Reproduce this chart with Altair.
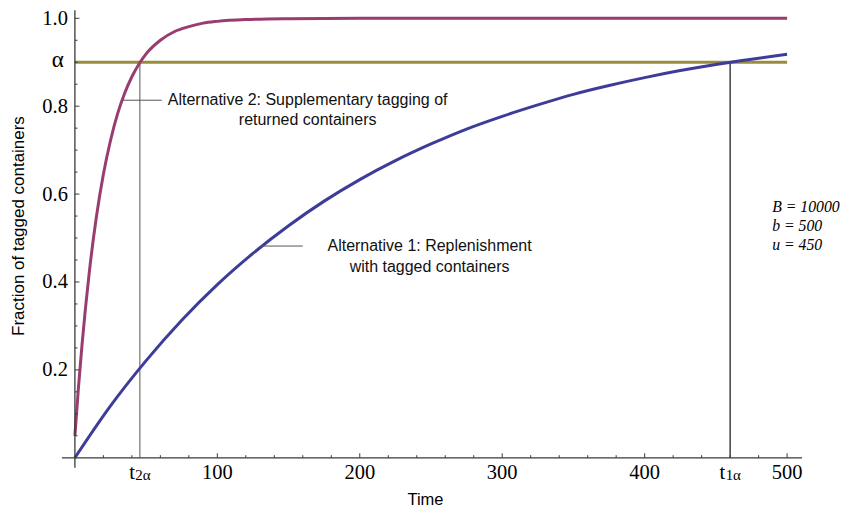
import altair as alt
import pandas as pd

# ---- values ----
time_alt1 = [0, 25, 50, 75, 100, 125, 150, 175, 200, 225, 250, 275, 300,
             325, 350, 375, 400, 425, 450, 475, 500]
frac_alt1 = [0.0, 0.118, 0.221, 0.313, 0.394, 0.465, 0.528, 0.584, 0.633,
             0.676, 0.714, 0.748, 0.777, 0.803, 0.827, 0.847, 0.865, 0.881,
             0.895, 0.907, 0.918]

time_alt2 = [0, 2.5, 5, 10, 15, 20, 25, 30, 35, 40, 45, 50, 60, 70, 80, 90,
             100, 120, 150, 200, 300, 400, 500]
frac_alt2 = [0.05, 0.160, 0.257, 0.419, 0.546, 0.645, 0.722, 0.783, 0.830,
             0.867, 0.896, 0.919, 0.950, 0.970, 0.981, 0.989, 0.993, 0.997,
             0.999, 1.0, 1.0, 1.0, 1.0]

alpha = 0.9
t2_alpha = 45.6
t1_alpha = 460

x_major = [100, 200, 300, 400, 500]
x_major_labels = ["100", "200", "300", "400", "500"]
x_minor = [20, 40, 60, 80, 120, 140, 160, 180, 220, 240, 260, 280, 320, 340,
           360, 380, 420, 440, 460, 480]
y_major = [0.2, 0.4, 0.6, 0.8, 1.0]
y_major_labels = ["0.2", "0.4", "0.6", "0.8", "1.0"]
y_minor = [0.05, 0.1, 0.15, 0.25, 0.3, 0.35, 0.45, 0.5, 0.55, 0.65, 0.7,
           0.75, 0.85, 0.9, 0.95]

params_text = ["B = 10000", "b = 500", "u = 450"]

# ---- layout ----
X_DOMAIN = [-9.1, 510.5]
Y_DOMAIN = [-0.0227, 1.0182]
W, H = 741, 458

BLUE = "#3d3d99"
MAGENTA = "#993d71"
OLIVE = "#998c3d"
AXIS = "#3a3a3a"

xs = alt.Scale(domain=X_DOMAIN, nice=False, zero=False)
ys = alt.Scale(domain=Y_DOMAIN, nice=False, zero=False)


def X(f, **kw):
    return alt.X(f, type="quantitative", scale=xs, axis=None, **kw)


def Y(f, **kw):
    return alt.Y(f, type="quantitative", scale=ys, axis=None, **kw)


one = pd.DataFrame({"d": [0]})

# axes lines
x_axis = alt.Chart(one).mark_rule(color=AXIS, strokeWidth=1.3).encode(
    x=alt.value(0), x2=alt.value(W), y=alt.Y(datum=0, scale=ys, axis=None))
y_axis = alt.Chart(one).mark_rule(color=AXIS, strokeWidth=1.3).encode(
    y=alt.value(0), y2=alt.value(H), x=alt.X(datum=0, scale=xs, axis=None))

# ticks
df_xmaj = pd.DataFrame({"t": x_major, "lab": x_major_labels})
df_xmin = pd.DataFrame({"t": x_minor})
df_ymaj = pd.DataFrame({"v": y_major, "lab": y_major_labels})
df_ymin = pd.DataFrame({"v": y_minor})

xt_major = alt.Chart(df_xmaj).mark_rule(color=AXIS, strokeWidth=1, y2Offset=-4.5).encode(
    x=X("t"), y=alt.Y(datum=0, scale=ys, axis=None), y2=alt.Y2(datum=0))
xt_minor = alt.Chart(df_xmin).mark_rule(color=AXIS, strokeWidth=1, y2Offset=-2.6).encode(
    x=X("t"), y=alt.Y(datum=0, scale=ys, axis=None), y2=alt.Y2(datum=0))
yt_major = alt.Chart(df_ymaj).mark_rule(color=AXIS, strokeWidth=1, x2Offset=4.5).encode(
    y=Y("v"), x=alt.X(datum=0, scale=xs, axis=None), x2=alt.X2(datum=0))
yt_minor = alt.Chart(df_ymin).mark_rule(color=AXIS, strokeWidth=1, x2Offset=2.6).encode(
    y=Y("v"), x=alt.X(datum=0, scale=xs, axis=None), x2=alt.X2(datum=0))

SERIF = "Liberation Serif"
SANS = "Liberation Sans"

xl = alt.Chart(df_xmaj).mark_text(font=SERIF, fontSize=20.5, baseline="alphabetic",
                                   dy=21, color="black").encode(
    x=X("t"), y=alt.Y(datum=0, scale=ys, axis=None), text="lab:N")
yl = alt.Chart(df_ymaj).mark_text(font=SERIF, fontSize=20.5, baseline="alphabetic",
                                   align="right", dx=-7, dy=6.5, color="black").encode(
    y=Y("v"), x=alt.X(datum=0, scale=xs, axis=None), text="lab:N")
df_alpha_lab = pd.DataFrame({"v": [alpha], "lab": ["α"]})
yl_alpha = alt.Chart(df_alpha_lab).mark_text(font=SERIF, fontSize=23, baseline="alphabetic",
                                             align="right", dx=-11, dy=5, color="black").encode(
    y=Y("v"), x=alt.X(datum=0, scale=xs, axis=None), text="lab:N")

df_tsub = pd.DataFrame({"t": [t2_alpha, t1_alpha], "main": ["t", "t"], "sub": ["2α", "1α"]})
xl_t = alt.Chart(df_tsub).mark_text(font=SERIF, fontSize=20.5, baseline="alphabetic",
                                     align="right", dx=-5, dy=21, color="black").encode(
    x=X("t"), y=alt.Y(datum=0, scale=ys, axis=None), text="main:N")
xl_sub = alt.Chart(df_tsub).mark_text(font=SERIF, fontSize=15, baseline="alphabetic",
                                       align="left", dx=-4.5, dy=22, color="black").encode(
    x=X("t"), y=alt.Y(datum=0, scale=ys, axis=None), text="sub:N")

# drop lines
df_drop = pd.DataFrame({"t": [t2_alpha, t1_alpha], "y0": [0, 0], "y1": [alpha, alpha],
                        "c": ["#707070", "#111111"]})
drops = alt.Chart(df_drop).mark_rule(strokeWidth=1.2).encode(
    x=X("t"), y=Y("y0"), y2="y1", color=alt.Color("c:N", scale=None))

# alpha line
df_al = pd.DataFrame({"t0": [0], "t1": [500], "a": [alpha]})
alpha_line = alt.Chart(df_al).mark_rule(color=OLIVE, strokeWidth=3).encode(
    x=X("t0"), x2="t1", y=Y("a"))

df1 = pd.DataFrame({"t": time_alt1, "f": frac_alt1})
df2 = pd.DataFrame({"t": time_alt2, "f": frac_alt2})
curve1 = alt.Chart(df1).mark_line(color=BLUE, strokeWidth=3, interpolate="monotone").encode(
    x=X("t"), y=Y("f"))
curve2 = alt.Chart(df2).mark_line(color=MAGENTA, strokeWidth=3, interpolate="monotone").encode(
    x=X("t"), y=Y("f"))

# annotation leader lines
df_lead = pd.DataFrame({"t0": [33.0, 130.5], "t1": [61.0, 160.0], "y": [0.8136, 0.4818]})
leaders = alt.Chart(df_lead).mark_rule(color="#555555", strokeWidth=1).encode(
    x=X("t0"), x2="t1", y=Y("y"))

df_ann = pd.DataFrame({
    "t": [163.4, 163.4, 249.0, 249.0],
    "y": [0.8136, 0.768, 0.4818, 0.434],
    "txt": ["Alternative 2: Supplementary tagging of", "returned containers",
            "Alternative 1: Replenishment", "with tagged containers"],
})
ann = alt.Chart(df_ann).mark_text(font=SANS, fontSize=16, baseline="middle",
                                  align="center", color="#111111").encode(
    x=X("t"), y=Y("y"), text="txt:N")

df_par = pd.DataFrame({"t": [489.5, 489.5, 489.5], "y": [0.559, 0.516, 0.473],
                       "txt": params_text})
pars = alt.Chart(df_par).mark_text(font=SERIF, fontSize=15.8, fontStyle="italic",
                                   baseline="alphabetic", align="left",
                                   color="black").encode(
    x=X("t"), y=Y("y"), text="txt:N")

# axis titles
xtitle = alt.Chart(one).mark_text(font=SANS, fontSize=16.5, baseline="alphabetic",
                                  align="center", color="black", text="Time").encode(
    x=alt.value(364), y=alt.value(495))
ytitle = alt.Chart(one).mark_text(font=SANS, fontSize=17, baseline="alphabetic",
                                  align="center", angle=270, color="black",
                                  text="Fraction of tagged containers").encode(
    x=alt.value(-38), y=alt.value(216))

chart = alt.layer(
    drops, alpha_line, curve1, curve2, leaders,
    x_axis, y_axis, xt_major, xt_minor, yt_major, yt_minor,
    xl, yl, yl_alpha, xl_t, xl_sub, ann, pars, xtitle, ytitle,
).properties(
    width=W, height=H,
    padding={"left": 54, "top": 2, "right": 44, "bottom": 43},
    autosize=alt.AutoSizeParams(type="none"),
).configure_view(stroke=None)

chart.save("out.html", embed_options={"renderer": "svg", "actions": False})
